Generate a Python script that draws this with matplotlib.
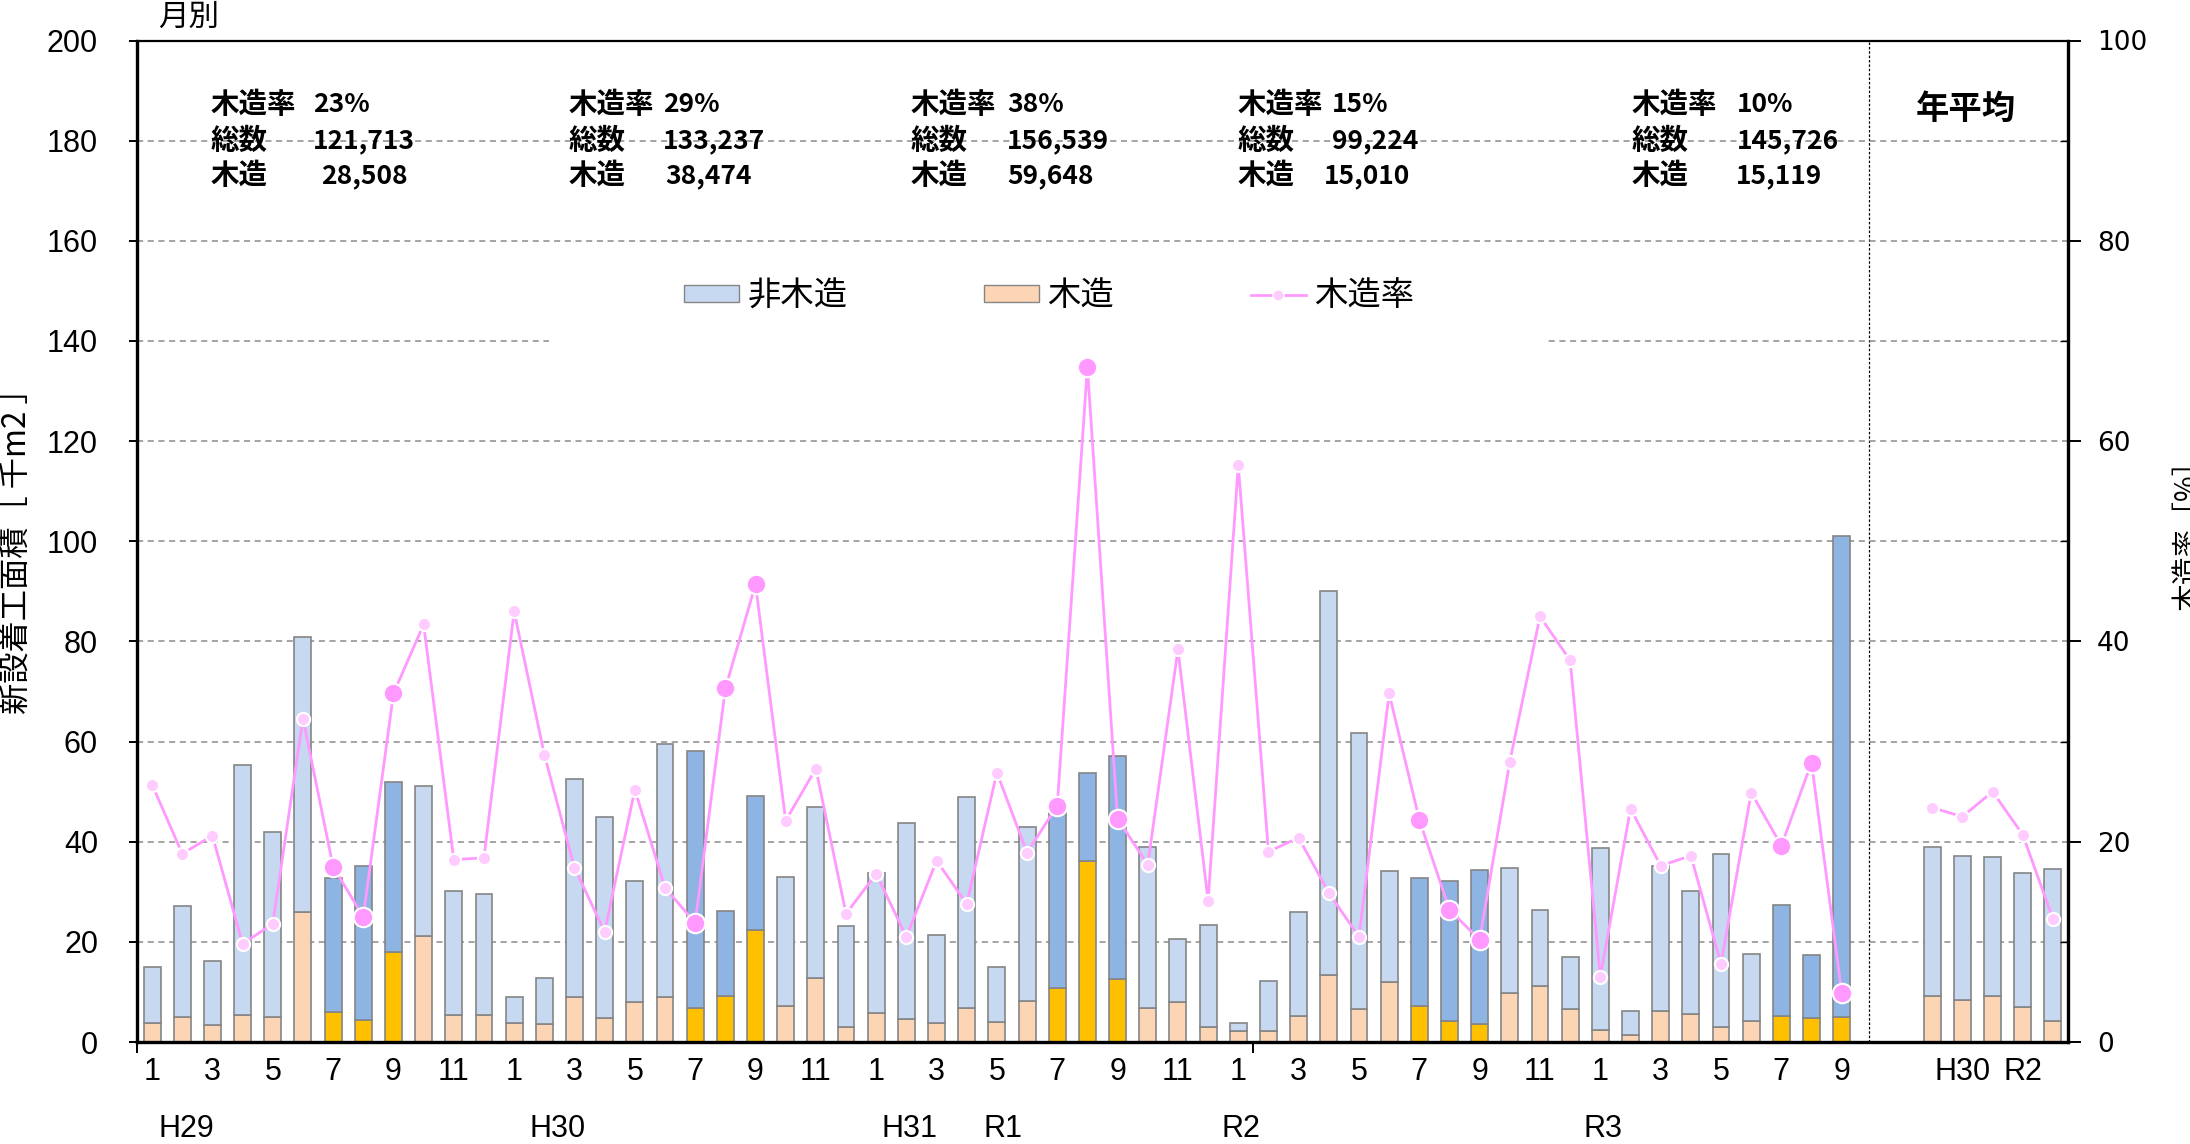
#!/usr/bin/env python

# Monthly new construction floor area, wooden vs non-wooden, with wooden ratio

import numpy as np
import matplotlib
matplotlib.use('Agg')
import matplotlib.pyplot as plt
from matplotlib.patches import Rectangle, Patch
from matplotlib.lines import Line2D
from matplotlib.transforms import blended_transform_factory

jp = ['Noto Sans CJK JP', 'DejaVu Sans']
plt.rcParams['font.family'] = ['Liberation Sans', 'Noto Sans CJK JP', 'DejaVu Sans']

# Monthly data, H29/1 .. R3/9 (thousand m2 and %)
month_no = list(range(1, 13)) * 4 + list(range(1, 10))
total = [15.0, 27.1, 16.2, 55.3, 42.0, 80.8, 32.8, 35.1, 52.0, 51.2, 30.1, 29.5,
         9.0, 12.7, 52.5, 45.0, 32.2, 59.5, 58.1, 26.2, 49.1, 33.0, 46.9, 23.1,
         33.7, 43.8, 21.3, 49.0, 14.9, 42.9, 45.7, 53.7, 57.2, 39.0, 20.6, 23.3,
         3.8, 12.2, 26.0, 90.0, 61.7, 34.1, 32.7, 32.2, 34.3, 34.7, 26.3, 17.0,
         38.8, 6.1, 35.1, 30.1, 37.5, 17.5, 27.4, 17.3, 101.0]
wood = [3.8, 4.9, 3.3, 5.3, 4.9, 26.0, 6.0, 4.3, 18.0, 21.2, 5.3, 5.3,
        3.8, 3.5, 9.0, 4.8, 8.0, 9.0, 6.8, 9.1, 22.3, 7.2, 12.7, 2.9,
        5.7, 4.5, 3.8, 6.7, 4.0, 8.1, 10.7, 36.1, 12.5, 6.8, 7.9, 3.0,
        2.1, 2.2, 5.2, 13.3, 6.5, 11.9, 7.1, 4.2, 3.5, 9.7, 11.2, 6.5,
        2.3, 1.3, 6.1, 5.5, 2.9, 4.2, 5.2, 4.7, 4.9]
rate = [25.7, 18.8, 20.6, 9.8, 11.8, 32.3, 17.5, 12.5, 34.8, 41.7, 18.2, 18.4,
        43.0, 28.7, 17.4, 11.0, 25.2, 15.4, 11.9, 35.3, 45.7, 22.1, 27.3, 12.8,
        16.8, 10.5, 18.1, 13.8, 26.9, 18.9, 23.6, 67.4, 22.3, 17.7, 39.2, 14.1,
        57.6, 19.0, 20.4, 14.9, 10.5, 34.8, 22.2, 13.2, 10.2, 28.0, 42.5, 38.1,
        6.5, 23.3, 17.6, 18.6, 7.8, 24.9, 19.6, 27.9, 4.9]

# Yearly averages
year_names = ['H29', 'H30', 'R1', 'R2', 'R3']
year_total = [39.0, 37.2, 37.0, 33.7, 34.6]
year_wood = [9.1, 8.3, 9.2, 7.0, 4.2]
year_rate = [23.4, 22.5, 25.0, 20.7, 12.3]

# Yearly summary boxes
sum_rate = ['23%', '29%', '38%', '15%', '10%']
sum_total = ['121,713', '133,237', '156,539', '99,224', '145,726']
sum_wood = ['28,508', '38,474', '59,648', '15,010', '15,119']
era_labels = ['H29', 'H30', 'H31', 'R1', 'R2', 'R3']

# colours
c_nw = '#C6D9F1'
c_w = '#FCD5B5'
c_nw_hi = '#8DB4E2'
c_w_hi = '#FFC000'
c_edge = '#858585'
c_line = '#FF99FF'
c_mk = '#FFCCFF'

total = np.array(total)
wood = np.array(wood)
x_m = np.arange(len(total))
x_y = np.arange(59, 64)
hi = np.array([m in (7, 8, 9) for m in month_no])

fig = plt.figure(figsize=(21.9, 11.44), dpi=100)
ax = fig.add_axes([137/2190, 102/1144, 1931/2190, 1001.5/1144])

bw = 0.56
ax.bar(x_m, wood, width=bw, color=np.where(hi, c_w_hi, c_w),
       edgecolor=c_edge, linewidth=1.2, zorder=2)
ax.bar(x_m, total - wood, bottom=wood, width=bw,
       color=np.where(hi, c_nw_hi, c_nw),
       edgecolor=c_edge, linewidth=1.2, zorder=2)
ax.bar(x_y, year_wood, width=bw, color=c_w, edgecolor=c_edge,
       linewidth=1.2, zorder=2)
ax.bar(x_y, np.array(year_total) - np.array(year_wood), bottom=year_wood,
       width=bw, color=c_nw, edgecolor=c_edge, linewidth=1.2, zorder=2)

ax.set_xlim(-0.5, 63.5)
ax.set_ylim(0, 200)
ax.yaxis.grid(True, linestyle=(0, (4, 3)), color='#8C8C8C', linewidth=1.1)
ax.axvline(56.9, color='black', linestyle=(0, (2, 1.5)), linewidth=0.9, zorder=1.5)

# white box behind the legend (cuts the 140 grid line)
ax.add_patch(Rectangle((0.2134, 0.689), 0.515, 0.097, transform=ax.transAxes,
                       facecolor='white', edgecolor='none', zorder=1.6))

# axes styling
for s in ['left', 'bottom']:
    ax.spines[s].set_linewidth(2.4)
ax.spines['top'].set_linewidth(1.6)
ax.spines['right'].set_visible(False)

ax.set_yticks(range(0, 201, 20))
ax.tick_params(axis='y', direction='out', length=6, width=1.4, pad=22,
               labelsize=22)
ax.set_xticks([-0.5, 36.5])
ax.set_xticklabels(['', ''])
ax.tick_params(axis='x', which='major', direction='out', length=8, width=1.4)
tick_pos = list(range(0, 64, 2))
tick_lab = []
for p in tick_pos:
    if p < len(month_no):
        tick_lab.append(str(month_no[p]))
    elif p >= 59:
        tick_lab.append(year_names[p - 59])
    else:
        tick_lab.append('')
ax.set_xticks(tick_pos, minor=True)
ax.set_xticklabels(tick_lab, minor=True)
ax.tick_params(axis='x', which='minor', length=0, pad=11, labelsize=22)

# second row: era labels
tr = blended_transform_factory(ax.transData, ax.transAxes)
era_x = [1.12, 13.44, 25.1, 28.2, 36.1, 48.1]
for ex, el in zip(era_x, era_labels):
    ax.text(ex, -0.087, el, transform=tr, ha='center', va='center', fontsize=22)

# summary text per year
ann_x = [(1.94, 5.34, 8.46), (13.82, 16.94, 19.88), (25.15, 28.34, 31.21),
         (35.97, 39.11, 41.70), (49.05, 52.52, 55.34)]
kw = dict(family=jp, fontweight='bold', va='center', zorder=5)
for (xl, xv, xr), r, t, w in zip(ann_x, sum_rate, sum_total, sum_wood):
    ax.text(xl, 187.2, '木造率', ha='left', fontsize=20.5, **kw)
    ax.text(xv, 187.2, r, ha='left', fontsize=19, **kw)
    ax.text(xl, 179.9, '総数', ha='left', fontsize=20.5, **kw)
    ax.text(xv, 179.9, t, ha='left', fontsize=19, **kw)
    ax.text(xl, 172.9, '木造', ha='left', fontsize=20.5, **kw)
    ax.text(xr, 172.9, w, ha='right', fontsize=19, **kw)
ax.text(58.44, 186.3, '年平均', ha='left', fontsize=24, **kw)

# ratio on the right axis
ax2 = ax.twinx()
ax2.set_ylim(0, 100)
ax2.plot(x_m, rate, color=c_line, linewidth=2.0, zorder=3)
ax2.plot(x_y, year_rate, color=c_line, linewidth=2.0, zorder=3)
rate = np.array(rate)
ax2.plot(x_m[~hi], rate[~hi], linestyle='none', marker='o', markersize=9.5,
         markerfacecolor=c_mk, markeredgecolor='white', markeredgewidth=1.5, zorder=4)
ax2.plot(x_y, year_rate, linestyle='none', marker='o', markersize=9.5,
         markerfacecolor=c_mk, markeredgecolor='white', markeredgewidth=1.5, zorder=4)
ax2.plot(x_m[hi], rate[hi], linestyle='none', marker='o', markersize=14,
         markerfacecolor=c_line, markeredgecolor='white', markeredgewidth=1.5, zorder=4)

for s in ['left', 'bottom', 'top']:
    ax2.spines[s].set_visible(False)
ax2.spines['right'].set_linewidth(2.4)
ax2.set_yticks(range(0, 101, 20))
ax2.set_yticks(range(10, 100, 20), minor=True)
ax2.tick_params(axis='y', which='major', direction='out', length=9, width=1.4,
                pad=12, labelsize=19, labelfontfamily='DejaVu Sans')
ax2.tick_params(axis='y', which='minor', direction='in', length=6, width=1.0)

# legend
handles = [Patch(facecolor=c_nw, edgecolor=c_edge),
           Patch(facecolor=c_w, edgecolor=c_edge),
           Line2D([], [], color=c_line, linewidth=2, marker='o', markersize=8,
                  markerfacecolor=c_mk, markeredgecolor='white')]
ax.legend(handles, ['非木造', '木造', '木造率'], ncol=3, loc='center left',
          bbox_to_anchor=(0.2833, 0.745), frameon=False,
          prop={'family': jp, 'size': 24}, handlelength=1.65, handleheight=0.45,
          handletextpad=0.25, columnspacing=4.1, borderpad=0, borderaxespad=0)

# axis titles
fig.text(18/2190, 1 - 543/1144, '新設着工面積［ 千m2 ］', rotation=90,
         ha='center', va='center', family=jp, fontsize=22.5)
fig.text(2173/2190, 1 - 529/1144, '木造率［%］', rotation=90,
         ha='left', va='center', family=jp, fontsize=20)
fig.text(158/2190, 1 - 17.5/1144, '月別', ha='left', va='center',
         family=jp, fontsize=22)

fig.savefig('out.png', dpi=100, facecolor='white')
